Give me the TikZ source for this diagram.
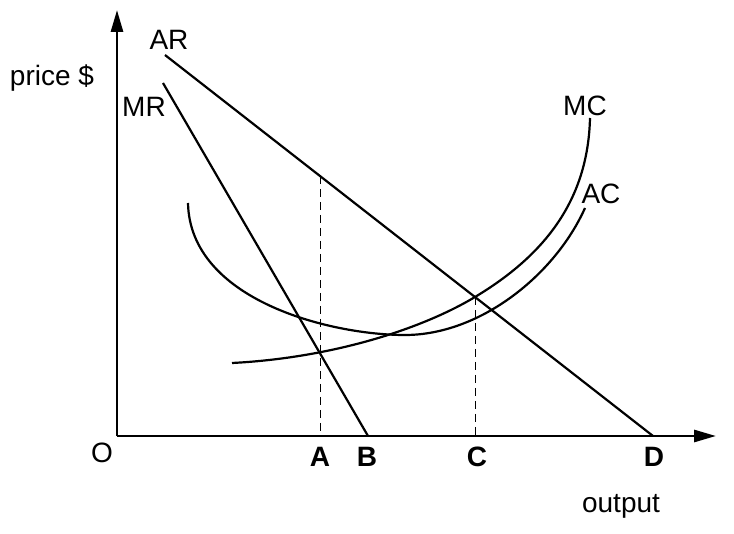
\documentclass[tikz,border=0pt]{standalone}
\usepackage{fontspec}
\setmainfont{Liberation Sans}
\usetikzlibrary{arrows.meta}
\begin{document}
\begin{tikzpicture}[x=0.5pt,y=-0.5pt,
  axisline/.style={line width=1.4pt,-{Triangle[length=11pt,width=6pt]}},
  curveline/.style={line width=1.1pt},
  guide/.style={line width=0.5pt,dash pattern=on 4pt off 2.5pt},
  lbl/.style={font=\fontsize{14}{16}\selectfont,inner sep=0pt},
  blbl/.style={font=\fontsize{14}{16}\selectfont\bfseries,inner sep=0pt}]
\useasboundingbox (0,0) rectangle (734,534);
% axes
\coordinate (O) at (117,436);
\coordinate (ytip) at (117,10);
\coordinate (xtip) at (716,436);
\draw[axisline] (O) -- (ytip);
\draw[axisline] (O) -- (xtip);
% AR and MR
\coordinate (ARs) at (165,55);
\coordinate (ARe) at (653,436);
\coordinate (MRs) at (163,83);
\coordinate (MRe) at (368,436);
\draw[curveline] (ARs) -- (ARe);
\draw[curveline] (MRs) -- (MRe);
% dashed guides
\coordinate (Atop) at (320,176);
\coordinate (Abot) at (320,436);
\coordinate (Ctop) at (475,297);
\coordinate (Cbot) at (475,436);
\draw[guide] (Atop) -- (Abot);
\draw[guide] (Ctop) -- (Cbot);
% MC
\coordinate (MCs) at (232,363);
\coordinate (MCm) at (475,297);
\coordinate (MCe) at (590,118);
\draw[curveline] (MCs) .. controls (330,358) and (420,330) .. (MCm)
                       .. controls (545,255) and (588,200) .. (MCe);
% AC
\coordinate (ACs) at (188,203);
\coordinate (ACm) at (405,335);
\coordinate (ACe) at (585,208);
\draw[curveline] (ACs) .. controls (190,300) and (330,335) .. (ACm)
                       .. controls (480,335) and (555,275) .. (ACe);
% labels
\node[lbl] (lAR) at (169,40) {AR};
\node[lbl] (lMR) at (144,107) {MR};
\node[lbl] (lMC) at (585,106) {MC};
\node[lbl] (lAC) at (601,194) {AC};
\node[lbl] (lprice) at (52,78) {price \$};
\node[lbl] (lO) at (102,453) {O};
\node[blbl] (lA) at (320,457) {A};
\node[blbl] (lB) at (367,457) {B};
\node[blbl] (lC) at (477,457) {C};
\node[blbl] (lD) at (654,457) {D};
\node[lbl] (lout) at (621,506) {output};
\end{tikzpicture}
\end{document}
